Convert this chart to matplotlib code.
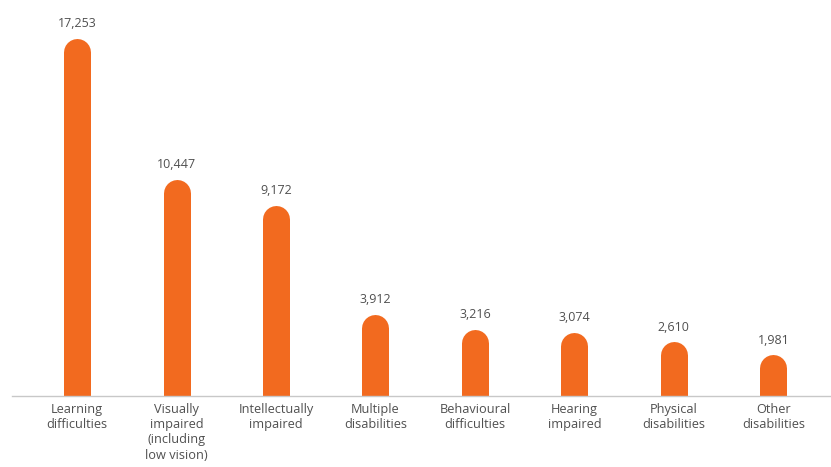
import matplotlib.pyplot as plt

categories = ['Learning\ndifficulties', 'Visually\nimpaired\n(including\nlow vision)',
              'Intellectually\nimpaired', 'Multiple\ndisabilities', 'Behavioural\ndifficulties',
              'Hearing\nimpaired', 'Physical\ndisabilities', 'Other\ndisabilities']
students = [17253, 10447, 9172, 3912, 3216, 3074, 2610, 1981]

orange = '#f26a1f'
grey_text = '#505050'

plt.rcParams['font.family'] = ['Open Sans', 'DejaVu Sans']

fig = plt.figure(figsize=(8.31, 4.67), dpi=100)
ax = fig.add_axes([12 / 831, 71 / 467, 819 / 831, 396 / 467])

ymax = 19085
ax.set_ylim(0, ymax)
ax.set_xlim(-0.654, 7.58)

# bars are thick lines with round caps; the lower cap is clipped by the axis
bar_px = 27
cap = (bar_px / 2) * ymax / 396
for i, v in enumerate(students):
    ax.plot([i, i], [0, v - cap], color=orange, lw=bar_px * 72 / 100,
            solid_capstyle='round')
    ax.annotate(f'{v:,}', (i, v), xytext=(0, 6), textcoords='offset points',
                ha='center', va='bottom', fontsize=9, color=grey_text)

ax.set_xticks(range(len(categories)))
ax.set_xticklabels(categories, fontsize=9.2, color=grey_text, linespacing=1.22)
ax.tick_params(axis='x', length=0, pad=5)
ax.set_yticks([])

for s in ['top', 'right', 'left']:
    ax.spines[s].set_visible(False)
ax.spines['bottom'].set_color('#c8c8c8')
ax.spines['bottom'].set_linewidth(1)

fig.savefig('out.png', dpi=100)
